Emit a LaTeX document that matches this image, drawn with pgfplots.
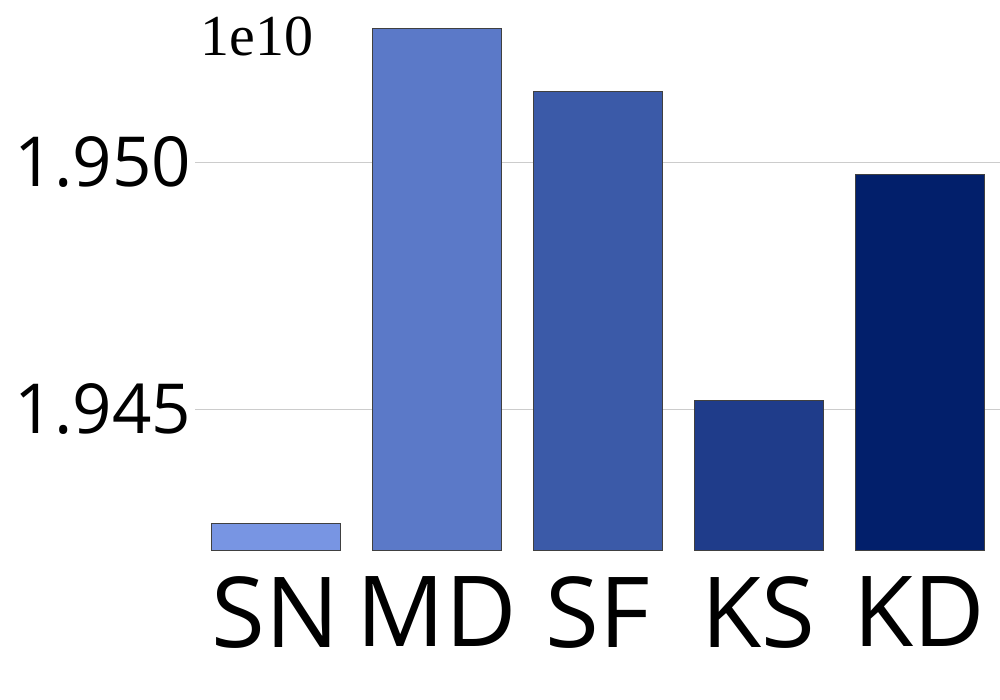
\documentclass[border=0pt]{standalone}
\usepackage{fontspec}
\setmainfont{Open Sans}
\newfontfamily\serifnum{Liberation Serif}
\usepackage{pgfplots}
\pgfplotsset{compat=1.18}
\definecolor{cSN}{HTML}{7895E3}
\definecolor{cMD}{HTML}{5B79C8}
\definecolor{cSF}{HTML}{3B5AA8}
\definecolor{cKS}{HTML}{1F3C8A}
\definecolor{cKD}{HTML}{021F6B}
\definecolor{gridgray}{HTML}{CCCCCC}
\begin{document}
\begin{tikzpicture}
  \useasboundingbox (0,0) rectangle (500pt,350pt);
  \begin{axis}[
    at={(97.5pt,75pt)}, anchor=south west,
    width=402.5pt, height=275pt, scale only axis,
    ybar, bar width=0.8, bar shift=0pt,
    xmin=-0.5, xmax=4.5,
    ymin=1.942146, ymax=1.95328,
    xtick={0,1,2,3,4},
    xticklabels={SN,MD,SF,KS,KD},
    ytick={1.945,1.950},
    yticklabels={1.945,1.950},
    scaled y ticks=false,
    axis line style={draw=none},
    major tick style={draw=none},
    ymajorgrids,
    grid style={gridgray, line width=0.5pt},
    xticklabel style={font=\fontsize{49}{49}\selectfont, yshift=-5.5pt},
    yticklabel style={font=\fontsize{34.5}{34.5}\selectfont, xshift=1.5pt},
    clip=false,
  ]
    \addplot[fill=cSN, draw=black!75, line width=0.4pt] coordinates {(0,1.94269)};
    \addplot[fill=cMD, draw=black!75, line width=0.4pt] coordinates {(1,1.95271)};
    \addplot[fill=cSF, draw=black!75, line width=0.4pt] coordinates {(2,1.95142)};
    \addplot[fill=cKS, draw=black!75, line width=0.4pt] coordinates {(3,1.94517)};
    \addplot[fill=cKD, draw=black!75, line width=0.4pt] coordinates {(4,1.94974)};
  \end{axis}
  \node[font=\serifnum\fontsize{29}{29}\selectfont, anchor=base] at (128.5pt,322pt) {1e10};
\end{tikzpicture}
\end{document}
